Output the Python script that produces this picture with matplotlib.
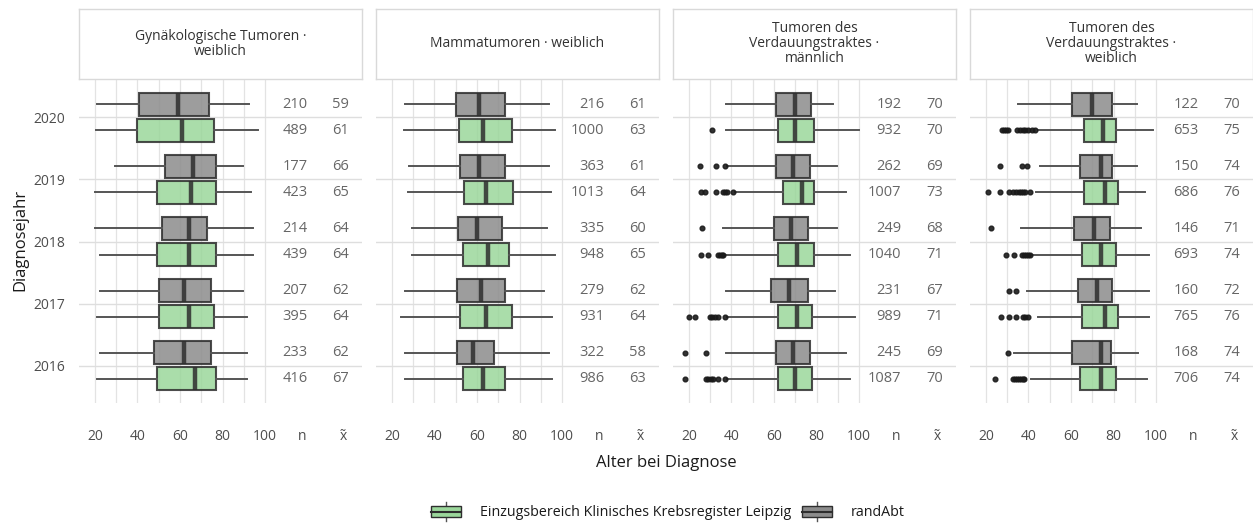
import matplotlib
matplotlib.use('Agg')
import matplotlib.pyplot as plt
from matplotlib.patches import Patch, Rectangle
from matplotlib.lines import Line2D
from matplotlib.legend_handler import HandlerBase

plt.rcParams['font.family'] = ['Open Sans', 'DejaVu Sans']

years = [2016, 2017, 2018, 2019, 2020]
titles = ['Gynäkologische Tumoren ·\nweiblich',
          'Mammatumoren · weiblich',
          'Tumoren des\nVerdauungstraktes ·\nmännlich',
          'Tumoren des\nVerdauungstraktes ·\nweiblich']

# randAbt (grey): per panel, values for 2016..2020
rand_lo = [[22.4, 22.4, 20.0, 29.4, 21.1],
           [26.3, 26.3, 29.4, 28.2, 26.3],
           [37.2, 37.2, 36.1, 38.0, 37.2],
           [33.4, 39.4, 36.5, 45.2, 35.3]]
rand_q1 = [[47.8, 50.1, 51.4, 52.9, 40.9],
           [50.5, 50.6, 51.0, 52.1, 50.2],
           [61.0, 58.8, 60.2, 61.0, 61.0],
           [60.5, 63.3, 61.3, 64.1, 60.6]]
rand_med = [[62, 62, 64, 66, 59],
            [58, 62, 60, 61, 61],
            [69, 67, 68, 69, 70],
            [74, 72, 71, 74, 70]]
rand_q3 = [[74.6, 74.6, 72.9, 76.9, 73.6],
           [67.9, 73.4, 71.7, 73.0, 73.0],
           [77.1, 76.0, 76.0, 76.8, 77.4],
           [78.6, 79.1, 78.3, 79.1, 79.1]]
rand_hi = [[91.4, 89.5, 94.5, 89.5, 92.5],
           [93.7, 91.5, 92.9, 93.7, 93.7],
           [93.7, 88.6, 89.7, 89.7, 87.7],
           [91.7, 96.9, 92.8, 90.9, 90.9]]
rand_n = [[233, 207, 214, 177, 210],
          [322, 279, 335, 363, 216],
          [245, 231, 249, 262, 192],
          [168, 160, 146, 150, 122]]
rand_out = [[[], [], [], [], []],
            [[], [], [], [], []],
            [[18, 27.9], [], [26.2], [25, 32.9, 36.9], []],
            [[30.2], [31, 34.2], [22.4], [26.8, 36.9, 39.5], []]]

# Einzugsbereich Klinisches Krebsregister Leipzig (green)
kkr_lo = [[21.1, 21.1, 22.4, 20.0, 20.3],
          [26.3, 24.2, 29.4, 27.4, 25.5],
          [37.7, 37.7, 36.9, 41.6, 37.2],
          [41.3, 44.4, 41.6, 43.6, 44.4]]
kkr_q1 = [[49.0, 50.1, 49.0, 49.0, 39.9],
          [53.2, 51.9, 53.2, 54.1, 51.7],
          [62.1, 62.1, 62.1, 64.0, 62.1],
          [64.3, 65.2, 65.2, 66.0, 66.0]]
kkr_med = [[67, 64, 64, 65, 61],
           [63, 64, 65, 64, 63],
           [70, 71, 71, 73, 70],
           [74, 76, 74, 76, 75]]
kkr_q3 = [[76.9, 76.0, 76.9, 76.9, 76.0],
          [73.1, 76.3, 75.0, 77.1, 76.3],
          [78.1, 78.1, 79.0, 79.0, 79.0],
          [81.1, 82.2, 81.1, 82.2, 81.3]]
kkr_hi = [[91.4, 91.4, 94.5, 93.4, 96.5],
          [95.4, 95.4, 96.7, 94.7, 96.7],
          [95.6, 98.0, 95.6, 93.7, 100.0],
          [95.6, 96.9, 96.9, 94.8, 98.7]]
kkr_n = [[416, 395, 439, 423, 489],
         [986, 931, 948, 1013, 1000],
         [1087, 989, 1040, 1007, 932],
         [706, 765, 693, 686, 653]]
kkr_out = [[[], [], [], [], []],
           [[], [], [], [], []],
           [[18, 27.9, 29, 30.6, 31.5, 33.7, 36.9],
            [20, 23, 30.1, 31, 32.1, 33.7, 36.9],
            [25.8, 29, 33.5, 34.5, 35.5, 36.1],
            [25.8, 27.4, 32.9, 35.8, 36.9, 37.7, 40.8],
            [31]],
           [[24.3, 32.6, 33.5, 34.5, 35.5, 36.5, 37.5, 38.1],
            [27.1, 31, 34.2, 37.5, 38.5, 39.7],
            [29.4, 33.4, 37, 38, 39, 40, 40.9],
            [21.1, 26.8, 31, 32.5, 34, 35.5, 36.5, 37.5, 38.5, 40.5],
            [27.6, 28.6, 29.6, 30.6, 34.6, 36, 37.5, 38.5, 40, 41.5, 43.1]]]

GREY = '#8c8c8c'
GREEN = '#9bd79b'
EDGE = '#2e2e2e'
W, H = 1253, 524
N_POS, MED_POS = 120, 135.5


def stats(lo, q1, med, q3, hi, out):
    return [dict(whislo=lo[i], q1=q1[i], med=med[i], q3=q3[i], whishi=hi[i],
                 fliers=out[i]) for i in range(len(years))]


def draw(ax, st, pos, color):
    ax.bxp(st, positions=pos, orientation='horizontal', widths=0.37,
           patch_artist=True, showcaps=False, manage_ticks=False,
           boxprops=dict(facecolor=color, edgecolor=EDGE, lw=1.5, alpha=0.85),
           whiskerprops=dict(color='#555555', lw=1.4),
           medianprops=dict(color='#2e2e2e', lw=3.2, alpha=0.85),
           flierprops=dict(marker='o', markersize=3.4, markerfacecolor='#1a1a1a',
                           markeredgecolor='#1a1a1a', alpha=0.9),
           zorder=3)


fig = plt.figure(figsize=(W / 100, H / 100), dpi=100)
lefts = [79, 376, 673, 970]
for p, left in enumerate(lefts):
    ax = fig.add_axes([left / W, 1 - 403 / H, 283 / W, 323 / H])
    for g in range(20, 101, 10):
        ax.axvline(g, color='#e3e3e3', lw=0.9, zorder=0)
    for y in years:
        ax.axhline(y, color='#dedede', lw=1.0, zorder=0)

    pos_r = [y + 0.21 for y in years]
    pos_k = [y - 0.21 for y in years]
    draw(ax, stats(rand_lo[p], rand_q1[p], rand_med[p], rand_q3[p], rand_hi[p],
                   rand_out[p]), pos_r, GREY)
    draw(ax, stats(kkr_lo[p], kkr_q1[p], kkr_med[p], kkr_q3[p], kkr_hi[p],
                   kkr_out[p]), pos_k, GREEN)

    for i in range(len(years)):
        ax.text(N_POS, pos_r[i], str(rand_n[p][i]), ha='right', va='center',
                fontsize=10.5, color='#666666')
        ax.text(MED_POS, pos_r[i], str(rand_med[p][i]), ha='center', va='center',
                fontsize=10.5, color='#666666')
        ax.text(N_POS, pos_k[i], str(kkr_n[p][i]), ha='right', va='center',
                fontsize=10.5, color='#666666')
        ax.text(MED_POS, pos_k[i], str(kkr_med[p][i]), ha='center', va='center',
                fontsize=10.5, color='#666666')

    ax.set_xlim(12.5, 145.6)
    ax.set_ylim(2015.4, 2020.6)
    ax.set_xticks([20, 40, 60, 80, 100, 117.5, 137])
    ax.set_xticklabels(['20', '40', '60', '80', '100', 'n', 'x̃'])
    ax.set_yticks(years)
    if p == 0:
        ax.set_yticklabels([str(y) for y in years])
    else:
        ax.set_yticklabels([])
    ax.tick_params(axis='x', length=0, pad=19, labelsize=10, labelcolor='#4d4d4d')
    ax.tick_params(axis='y', length=0, pad=10, labelsize=10, labelcolor='#4d4d4d')
    for s in ax.spines.values():
        s.set_visible(False)

    # facet strip
    sx = fig.add_axes([left / W, 1 - 79 / H, 283 / W, 70 / H])
    sx.set_xticks([])
    sx.set_yticks([])
    for s in sx.spines.values():
        s.set_color('#d9d9d9')
        s.set_linewidth(1)
    sx.text(0.5, 0.5, titles[p], ha='center', va='center', fontsize=10,
            color='#333333', transform=sx.transAxes, linespacing=1.0)

fig.text(20 / W, 1 - 240 / H, 'Diagnosejahr', rotation=90, ha='center',
         va='center', fontsize=12, color='#1a1a1a')
fig.text(666 / W, 1 - 463 / H, 'Alter bei Diagnose', ha='center', va='center',
         fontsize=12, color='#1a1a1a')


class BoxKey(HandlerBase):
    def create_artists(self, legend, orig_handle, xdescent, ydescent, width,
                       height, fontsize, trans):
        x0, y0 = -xdescent, -ydescent
        cx = x0 + width / 2
        whisk = Line2D([cx, cx], [y0 - 3, y0 + height + 3], color='#555555',
                       lw=1, transform=trans)
        box = Rectangle((x0, y0), width, height,
                        facecolor=orig_handle.get_facecolor(), edgecolor=EDGE,
                        lw=1, transform=trans)
        mid = Line2D([x0, x0 + width], [y0 + height / 2] * 2, color=EDGE,
                     lw=1.5, transform=trans)
        return [whisk, box, mid]


handles = [Patch(facecolor=GREEN), Patch(facecolor=GREY)]
fig.legend(handles, ['Einzugsbereich Klinisches Krebsregister Leipzig', 'randAbt'],
           handler_map={Patch: BoxKey()}, loc='center',
           bbox_to_anchor=(668 / W, 1 - 513 / H), ncol=2, frameon=False,
           fontsize=10.3, handlelength=2.1, handleheight=0.75, columnspacing=0.8,
           handletextpad=1.3, labelcolor='#1a1a1a')

fig.savefig('out.png', dpi=100)
